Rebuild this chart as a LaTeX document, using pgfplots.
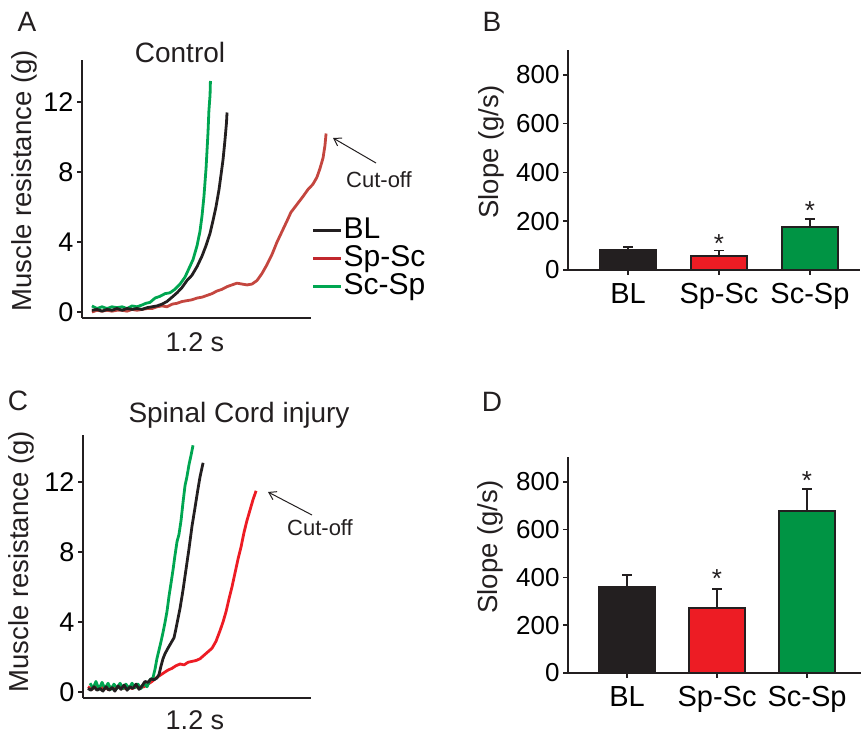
\documentclass[border=0pt]{standalone}
\usepackage{pgfplots}
\pgfplotsset{compat=1.18}
\usepackage{fontspec}
\setmainfont{Liberation Sans}
\setsansfont{Liberation Sans}
\usetikzlibrary{arrows.meta}

\definecolor{ink}{HTML}{231F20}
\definecolor{redA}{HTML}{C4463F}
\definecolor{redleg}{HTML}{C1272D}
\definecolor{redC}{HTML}{ED1C24}
\definecolor{greenT}{HTML}{00A651}
\definecolor{barred}{HTML}{ED1C24}
\definecolor{bargreen}{HTML}{009444}

\newcommand{\fbig}{\fontsize{28}{30}\selectfont}
\newcommand{\flab}{\fontsize{27.5}{30}\selectfont}
\newcommand{\fcut}{\fontsize{22}{24}\selectfont}

\pgfplotsset{
  trace/.style={scale only axis, axis lines=left, axis line style={-, line width=1.5pt, ink},
    clip=false, xmin=0, xmax=1.2, xtick=\empty,
    ytick={0,4,8,12}, tick align=outside, major tick length=5pt,
    tick style={line width=1.5pt, ink},
    yticklabel style={font=\fontsize{27}{29}\selectfont},
    /pgf/number format/assume math mode=true},
  tr/.style={line width=2.8pt, line join=round, #1},
  slope/.style={scale only axis, axis lines=left, axis line style={-, line width=1.5pt, ink},
    ybar, bar width=56pt, bar shift=0pt, ymin=0,
    ytick={0,200,...,800}, xtick={0,1,2}, xticklabels={BL,Sp-Sc,Sc-Sp},
    tick align=outside, major tick length=5pt,
    tick style={line width=1.5pt, ink},
    yticklabel style={font=\fontsize{26}{28}\selectfont},
    xticklabel style={font=\fontsize{29}{31}\selectfont, yshift=-5pt},
    /pgf/number format/assume math mode=true},
  bar/.style={fill=#1, draw=ink, line width=1.5pt,
    error bars/.cd, y dir=plus, y explicit,
    error bar style={line width=1.5pt, ink},
    error mark options={rotate=90, mark size=5pt, line width=1.5pt, ink}},
}

\begin{document}
\begin{tikzpicture}
\useasboundingbox (0pt,0pt) rectangle (861pt,735pt);

% A: control traces
\begin{axis}[trace, at={(82pt,417pt)}, anchor=south west,
  width=229pt, height=258pt, ymin=-0.34, ymax=14.4,
  legend style={draw=none, fill=none, inner sep=0pt, font=\fontsize{30}{32}\selectfont,
    at={(rel axis cs:1.003,0.395)}, anchor=north west,
    nodes={text height=21pt, text depth=5pt, inner sep=1pt}, row sep=0pt},
  legend cell align=left,
  legend image code/.code={\draw[#1, line width=2.8pt] (0pt,0pt) -- (28pt,0pt);}]
\addlegendimage{ink}\addlegendentry{BL}
\addlegendimage{redleg}\addlegendentry{Sp-Sc}
\addlegendimage{greenT}\addlegendentry{Sc-Sp}
\addplot[tr=redA, forget plot] coordinates {
(0.052,0.0)(0.079,0.1)(0.105,0.05)(0.131,0.1)(0.157,0.05)(0.183,0.1)(0.210,0.1)(0.236,0.05)
(0.262,0.15)(0.288,0.1)(0.314,0.15)(0.341,0.2)(0.367,0.2)(0.393,0.3)(0.419,0.35)(0.445,0.3)
(0.472,0.45)(0.498,0.5)(0.524,0.6)(0.550,0.65)(0.576,0.7)(0.603,0.8)(0.629,0.85)(0.655,0.95)
(0.681,1.05)(0.707,1.2)(0.734,1.3)(0.760,1.45)(0.786,1.55)(0.812,1.65)(0.838,1.6)(0.865,1.55)
(0.891,1.6)(0.917,1.8)(0.943,2.2)(0.969,2.7)(0.996,3.3)(1.022,4.0)(1.048,4.6)(1.074,5.2)
(1.095,5.7)(1.116,6.0)(1.137,6.3)(1.158,6.6)(1.184,7.0)(1.210,7.3)(1.231,7.7)(1.247,8.2)
(1.263,8.8)(1.273,9.5)(1.279,10.2)};
\addplot[tr=greenT, forget plot] coordinates {
(0.052,0.35)(0.079,0.2)(0.105,0.3)(0.131,0.2)(0.157,0.3)(0.183,0.25)(0.210,0.3)(0.236,0.2)
(0.262,0.35)(0.288,0.3)(0.314,0.4)(0.335,0.5)(0.356,0.55)(0.383,0.8)(0.409,0.9)(0.435,1.05)
(0.461,1.1)(0.487,1.3)(0.514,1.6)(0.540,2.0)(0.561,2.5)(0.582,3.0)(0.603,3.8)(0.618,4.6)
(0.629,5.5)(0.639,6.6)(0.650,8.2)(0.655,9.2)(0.660,10.2)(0.665,11.5)(0.671,12.4)(0.673,13.2)};
\addplot[tr=ink, forget plot] coordinates {
(0.052,0.1)(0.079,0.15)(0.105,0.05)(0.131,0.15)(0.157,0.1)(0.183,0.2)(0.210,0.1)(0.236,0.2)
(0.262,0.15)(0.288,0.2)(0.314,0.15)(0.341,0.25)(0.367,0.3)(0.393,0.35)(0.419,0.45)(0.445,0.6)
(0.472,0.85)(0.498,1.1)(0.524,1.4)(0.550,1.8)(0.576,2.1)(0.603,2.6)(0.629,3.2)(0.650,3.8)
(0.671,4.5)(0.686,5.2)(0.702,6.0)(0.718,7.0)(0.728,7.8)(0.739,8.7)(0.749,9.8)(0.757,10.8)
(0.760,11.4)};
\end{axis}

% C: spinal cord injury traces
\begin{axis}[trace, at={(83pt,37pt)}, anchor=south west,
  width=228pt, height=263pt, ymin=-0.343, ymax=14.69]
\addplot[tr=redC] coordinates {
(0.026,0.3)(0.047,0.15)(0.068,0.35)(0.089,0.2)(0.111,0.3)(0.132,0.15)(0.153,0.3)(0.174,0.2)
(0.195,0.35)(0.216,0.2)(0.237,0.3)(0.258,0.2)(0.279,0.3)(0.300,0.25)(0.321,0.3)(0.342,0.45)
(0.363,0.6)(0.384,0.8)(0.405,0.95)(0.426,1.1)(0.447,1.25)(0.468,1.35)(0.489,1.5)(0.511,1.6)
(0.532,1.55)(0.553,1.7)(0.574,1.75)(0.595,1.8)(0.616,1.9)(0.637,2.1)(0.658,2.3)(0.679,2.5)
(0.700,2.9)(0.721,3.5)(0.737,4.0)(0.753,4.6)(0.768,5.3)(0.784,6.0)(0.800,6.8)(0.816,7.6)
(0.832,8.3)(0.847,9.1)(0.863,9.8)(0.879,10.4)(0.895,11.0)(0.911,11.5)};
\addplot[tr=greenT] coordinates {
(0.037,0.5)(0.053,0.2)(0.068,0.6)(0.084,0.15)(0.100,0.55)(0.116,0.2)(0.132,0.5)(0.147,0.15)
(0.163,0.45)(0.179,0.2)(0.195,0.5)(0.211,0.2)(0.226,0.45)(0.242,0.2)(0.258,0.5)(0.274,0.25)
(0.289,0.45)(0.305,0.2)(0.321,0.5)(0.337,0.3)(0.353,0.7)(0.368,0.8)(0.379,1.3)(0.389,1.9)
(0.400,2.4)(0.411,2.9)(0.421,3.4)(0.432,4.0)(0.442,4.6)(0.453,5.5)(0.463,6.2)(0.474,7.0)
(0.484,7.8)(0.495,8.6)(0.505,9.0)(0.516,9.8)(0.526,10.8)(0.537,11.8)(0.547,12.3)(0.558,13.0)
(0.568,13.5)(0.579,14.1)};
\addplot[tr=ink] coordinates {
(0.026,0.2)(0.042,0.1)(0.058,0.3)(0.074,0.1)(0.089,0.2)(0.105,0.05)(0.121,0.3)(0.137,0.1)
(0.153,0.25)(0.168,0.05)(0.184,0.35)(0.200,0.15)(0.216,0.4)(0.232,0.1)(0.247,0.3)(0.263,0.2)
(0.279,0.45)(0.295,0.15)(0.311,0.35)(0.326,0.6)(0.342,0.55)(0.358,0.75)(0.374,0.7)(0.389,0.8)
(0.400,1.0)(0.411,1.5)(0.421,1.9)(0.432,2.2)(0.447,2.5)(0.463,2.8)(0.479,3.1)(0.489,3.6)
(0.500,4.2)(0.511,4.8)(0.526,5.8)(0.542,7.0)(0.558,8.2)(0.574,9.5)(0.589,10.5)(0.605,11.6)
(0.616,12.3)(0.632,13.1)};
\end{axis}

% B: slope, control
\begin{axis}[slope, at={(568pt,465pt)}, anchor=south west,
  width=292pt, height=220pt, ymax=902, xmin=-0.66, xmax=2.55]
\addplot[bar=ink] coordinates {(0,82) +- (0,12)};
\addplot[bar=barred] coordinates {(1,58) +- (0,21)};
\addplot[bar=bargreen] coordinates {(2,177) +- (0,32)};
\node[anchor=base, font=\fontsize{26}{28}\selectfont, ink] at (axis cs:1,70) {*};
\node[anchor=base, font=\fontsize{26}{28}\selectfont, ink] at (axis cs:2,209) {*};
\end{axis}

% D: slope, spinal cord injury
\begin{axis}[slope, at={(568pt,62pt)}, anchor=south west,
  width=293pt, height=216pt, ymax=904, xmin=-0.656, xmax=2.6]
\addplot[bar=ink] coordinates {(0,360) +- (0,50)};
\addplot[bar=barred] coordinates {(1,272) +- (0,79)};
\addplot[bar=bargreen] coordinates {(2,678) +- (0,92)};
\node[anchor=base, font=\fontsize{26}{28}\selectfont, ink] at (axis cs:1,356) {*};
\node[anchor=base, font=\fontsize{26}{28}\selectfont, ink] at (axis cs:2,770) {*};
\end{axis}

% panel letters, titles and labels
\begin{scope}[every node/.style={font=\fbig, text=ink}]
\node at (27pt,713pt) {A};
\node at (492pt,713pt) {B};
\node at (18pt,334pt) {C};
\node at (492pt,333pt) {D};
\node at (180pt,682pt) {Control};
\node at (239pt,320pt) {Spinal Cord injury};
\node[rotate=90, font=\flab] at (24pt,554pt) {Muscle resistance (g)};
\node[rotate=90, font=\flab] at (21pt,173pt) {Muscle resistance (g)};
\node[rotate=90, font=\flab] at (491pt,583pt) {Slope (g/s)};
\node[rotate=90, font=\flab] at (490pt,188pt) {Slope (g/s)};
\node[font=\fontsize{27}{29}\selectfont] at (195pt,393pt) {1.2 s};
\node[font=\fontsize{27}{29}\selectfont] at (195pt,15pt) {1.2 s};
\node[font=\fcut] at (379pt,555pt) {Cut-off};
\node[font=\fcut] at (320pt,207pt) {Cut-off};
\end{scope}
\draw[ink, line width=1pt, -{Straight Barb[length=7pt,width=9pt]}] (376pt,572pt) -- (333pt,597pt);
\draw[ink, line width=1pt, -{Straight Barb[length=7pt,width=9pt]}] (312pt,220pt) -- (268pt,243pt);
\end{tikzpicture}
\end{document}
